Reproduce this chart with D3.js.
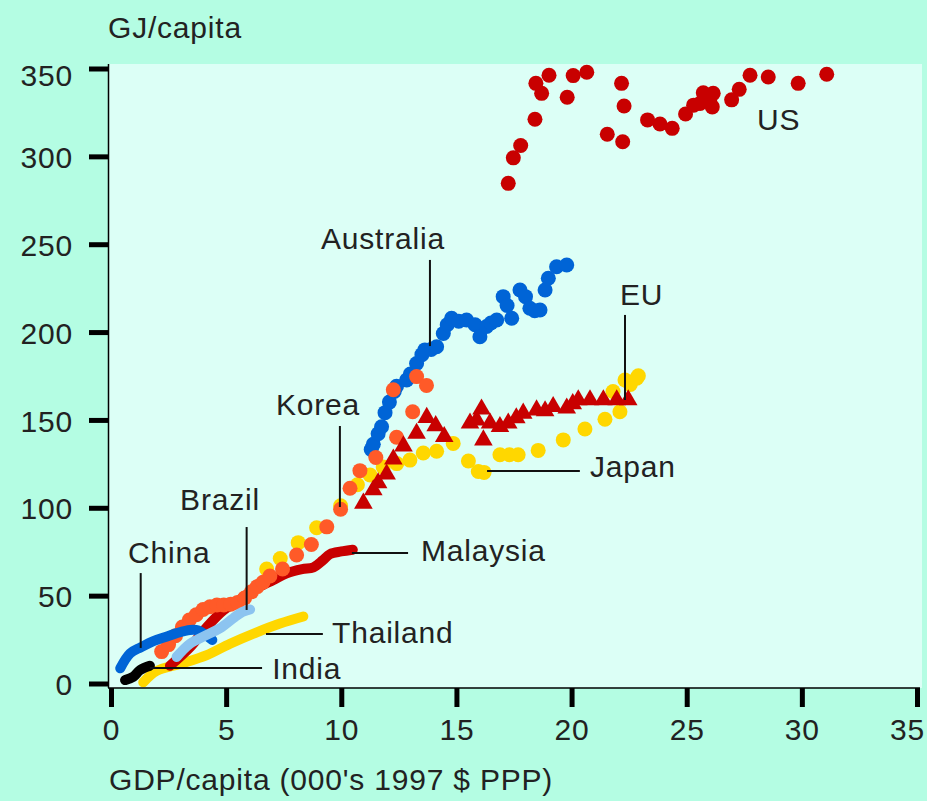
<!DOCTYPE html>
<meta charset="utf-8">
<style>
  body { margin: 0; background: #b4fde3; }
  svg { display: block; font-family: "Liberation Sans", Arial, sans-serif; }
  .lbl { font-size: 30px; fill: #222; letter-spacing: 0.8px; }
  .axis text { font-size: 30px; fill: #222; letter-spacing: 0.8px; font-family: "Liberation Sans", Arial, sans-serif; }
  .axis .tick line { stroke: #000; stroke-width: 5; }
  .lead { stroke: #111; stroke-width: 2; }
</style>
<svg width="927" height="801"></svg>
<script src="https://cdn.jsdelivr.net/npm/d3@7"></script>
<script>

// GDP/capita (000's 1997 $ PPP) vs GJ/capita
var us = [[17.25,285.5],[17.47,300],[17.79,307],[18.41,322],[18.7,336.7],[18.45,342.4],[19.02,347],
  [19.81,334.5],[20.07,346.8],[20.66,348.7],[22.17,342.4],[22.28,329.5],[21.55,313.4],[22.22,309.2],
  [23.3,321.6],[23.84,319.3],[24.37,316.8],[24.95,325],[25.3,330],[25.58,331],[25.72,337],[26.0,333],
  [26.15,336.7],[26.11,329],[26.95,333],[27.28,339],[27.75,347],[28.54,346],[29.84,342.4],[31.08,347.6]];

var australia = [[11.3,134],[11.39,137],[11.6,143],[11.75,147],[11.9,155],[12.09,161],[12.3,167],
  [12.4,170],[12.84,173.6],[13.0,177],[13.27,183],[13.5,188],[13.63,190.7],[13.9,191],[14.14,192.5],
  [14.43,200],[14.6,205],[14.79,208.7],[15.1,207],[15.44,207.7],[15.81,205],[16.02,198.2],[16.31,204],
  [16.5,206],[16.75,207.7],[17.03,221],[17.2,216],[17.4,208.7],[17.76,224.8],[18.0,221],[18.19,214.4],
  [18.4,213],[18.63,213.4],[18.85,224.8],[18.99,231.5],[19.35,238],[19.79,239]];

var korea = [[2.2,19],[2.5,23],[2.8,28],[3.1,33],[3.4,37],[3.7,40],[4.0,43],[4.3,44.5],[4.6,45.5],
  [4.9,45.5],[5.2,46],[5.5,47],[5.8,49.5],[6.1,53],[6.35,56],[6.6,58.5],[6.9,62],[7.45,66],[8.06,74],
  [8.7,80],[9.37,90],[9.97,100],[10.38,112],[10.81,122],[11.5,129.5],[12.4,141],[13.1,155.5],
  [12.26,168],[13.27,175.5],[13.7,170.5]];

var japan = [[6.76,66],[7.35,72],[8.13,81],[8.93,89.5],[9.97,102],[10.7,114],[11.25,119.5],[11.82,124],
  [12.41,126],[12.98,128],[13.56,132],[14.14,133],[14.86,137.5],[15.52,127.5],[15.95,121.5],[16.2,121],
  [16.89,131],[17.3,131],[17.68,131],[18.55,133.5],[19.64,139.5],[20.58,145.7],[21.45,151.2],[22.1,155.5],
  [21.8,167],[22.32,173.6],[22.55,171],[22.83,174.6],[22.9,176]];

var eu = [[10.96,103.4],[11.39,111],[11.6,115],[11.97,120],[12.26,128.5],[12.7,136],[13.27,143.2],
  [13.71,152.2],[14.1,147.5],[14.47,141.3],[15.59,149],[15.88,150.8],[16.09,157],[16.17,139.4],
  [16.46,149],[16.89,147],[17.25,149],[17.6,152],[17.9,154.6],[18.48,156.5],[18.85,156],[19.2,158.4],
  [19.79,157.5],[20.05,160],[20.29,162.2],[20.8,162.2],[21.38,162.2],[21.96,162.2],[22.46,162.2]];

var china = [[0.4,9.5],[0.83,18],[1.3,21.5],[1.84,25],[2.4,27.5],[2.85,29.5],[3.43,31.3],[3.8,31],[4.1,28.5],[4.4,25.6]];
var brazil = [[2.85,16],[3.43,23.5],[4.16,28.5],[4.73,32.3],[5.31,38],[5.7,41.5],[6.04,43]];
var india = [[0.61,2.8],[0.97,4.7],[1.26,8.5],[1.69,11]];
var thailand = [[1.4,1.5],[1.98,8],[3.0,12],[4.16,17],[5.17,23.5],[6.33,30],[7.34,35],[8.35,39]];
var malaysia = [[2.56,11],[3.43,21.5],[4.16,33],[4.88,42.5],[5.46,47.4],[6.18,54],[7.05,59.8],[7.63,63.6],
  [8.3,66],[8.79,67],[9.2,71],[9.51,74.5],[10.0,76],[10.5,77]];

var xTicks = [0, 5, 10, 15, 20, 25, 30, 35];
var yTicks = [0, 50, 100, 150, 200, 250, 300, 350];

// label text, anchor, leader line (data units)
var labels = [
  {t: "US", at: [28.05, 315.9]},
  {t: "Australia", at: [9.12, 248.1], lead: [[13.85, 241.9], [13.85, 192.9]]},
  {t: "EU", at: [22.1, 216.3], lead: [[22.32, 210.6], [22.32, 162.2]]},
  {t: "Japan", at: [20.8, 118.4], lead: [[16.33, 121.8], [20.36, 121.8]]},
  {t: "Korea", at: [7.16, 153.6], lead: [[9.94, 147.4], [9.94, 101.3]]},
  {t: "Brazil", at: [3.0, 99.6], lead: [[5.89, 89.9], [5.89, 42.7]]},
  {t: "China", at: [0.74, 69.5], lead: [[1.29, 63.7], [1.29, 21.1]]},
  {t: "Malaysia", at: [13.46, 70.6], lead: [[10.46, 75.1], [12.9, 75.1]]},
  {t: "Thailand", at: [9.6, 23.9], lead: [[6.73, 29], [9.2, 29]]},
  {t: "India", at: [7.0, 3.4], lead: [[1.69, 9.7], [6.56, 9.7]]}
];

var svg = d3.select("svg");

var x = d3.scaleLinear().domain([0, 35]).range([111, 917]);
var y = d3.scaleLinear().domain([0, 350]).range([685, 70]);

// plot panel
svg.append("rect")
    .attr("x", 108).attr("y", 64)
    .attr("width", 814).attr("height", 624)
    .attr("fill", "#dcfff6");

var line = d3.line()
    .x(function(d) { return x(d[0]); })
    .y(function(d) { return y(d[1]); })
    .curve(d3.curveCatmullRom);

function drawLine(data, color) {
  svg.append("path")
      .datum(data)
      .attr("d", line)
      .attr("fill", "none")
      .attr("stroke", color)
      .attr("stroke-width", 10)
      .attr("stroke-linecap", "round")
      .attr("stroke-linejoin", "round");
}

function drawDots(data, color) {
  svg.append("g").selectAll("circle")
      .data(data)
    .enter().append("circle")
      .attr("cx", function(d) { return x(d[0]); })
      .attr("cy", function(d) { return y(d[1]); })
      .attr("r", 7.5)
      .attr("fill", color);
}

drawDots(japan, "#ffd700");
drawLine(thailand, "#ffd700");
drawLine(malaysia, "#c80000");
drawDots(australia, "#0064d6");
drawDots(korea, "#ff5a28");

svg.append("g").selectAll("path")
    .data(eu)
  .enter().append("path")
    .attr("d", d3.symbol(d3.symbolTriangle, 150))
    .attr("transform", function(d) { return "translate(" + x(d[0]) + "," + y(d[1]) + ")"; })
    .attr("fill", "#c80000");

drawLine(china, "#0064d6");
drawLine(brazil, "#8cc4f0");
drawLine(india, "#000");
drawDots(us, "#c80000");

// axes
var yAxis = svg.append("g")
    .attr("class", "axis")
    .attr("transform", "translate(108,0)")
    .call(d3.axisLeft(y).tickValues(yTicks).tickSize(19).tickPadding(16).tickSizeOuter(0));
yAxis.select(".domain").remove();
yAxis.selectAll(".tick line").attr("transform", "translate(0,-1.5)");
// top label sits a little below its tick
yAxis.selectAll(".tick text").filter(function(d) { return d === 350; }).attr("y", 6);

var xAxis = svg.append("g")
    .attr("class", "axis")
    .attr("transform", "translate(0,688)")
    .call(d3.axisBottom(x).tickValues(xTicks).tickSize(19).tickPadding(12).tickSizeOuter(0));
xAxis.select(".domain").remove();
// last label is pulled in from the edge
xAxis.selectAll(".tick text").filter(function(d) { return d === 35; }).attr("x", -10);

svg.append("line")
    .attr("x1", 108.5).attr("x2", 108.5).attr("y1", 64).attr("y2", 688)
    .attr("stroke", "#000").attr("stroke-width", 1.5);
svg.append("line")
    .attr("x1", 108).attr("x2", 920).attr("y1", 688).attr("y2", 688)
    .attr("stroke", "#000").attr("stroke-width", 1.5);

// axis titles
svg.append("text").attr("class", "lbl")
    .attr("x", 108).attr("y", 38)
    .text("GJ/capita");
svg.append("text").attr("class", "lbl")
    .attr("x", 109).attr("y", 790)
    .text("GDP/capita (000's 1997 $ PPP)");

// series labels and leader lines
labels.forEach(function(l) {
  svg.append("text").attr("class", "lbl")
      .attr("x", x(l.at[0])).attr("y", y(l.at[1]))
      .text(l.t);
  if (l.lead) {
    svg.append("line").attr("class", "lead")
        .attr("x1", x(l.lead[0][0])).attr("y1", y(l.lead[0][1]))
        .attr("x2", x(l.lead[1][0])).attr("y2", y(l.lead[1][1]));
  }
});

</script>
